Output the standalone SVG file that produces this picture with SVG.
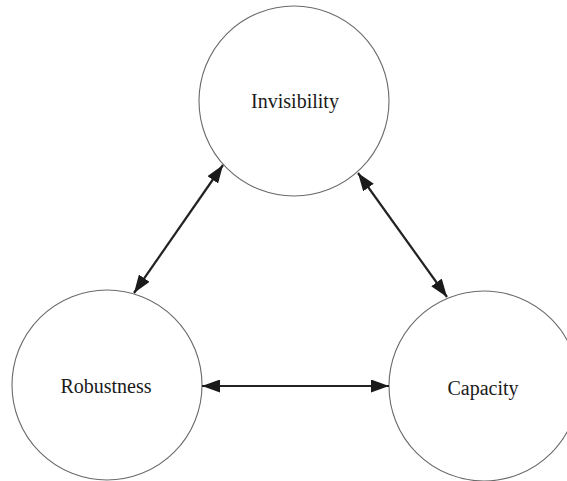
<svg xmlns="http://www.w3.org/2000/svg" width="567" height="481" viewBox="0 0 567 481">
  <style>
    .node circle { fill: #ffffff; stroke: #6a6a6a; stroke-width: 1.1; }
    .node text { font-family: 'Liberation Serif', 'DejaVu Serif', 'Times New Roman', serif; font-size: 20px; fill: #1a1a1a; text-anchor: middle; }
    .edge { stroke: #222222; stroke-width: 2.2; fill: none; marker-start: url(#head); marker-end: url(#head); }
  </style>
  <defs>
    <marker id="head" viewBox="0 0 18 13" refX="18" refY="6.5" markerWidth="18" markerHeight="13" markerUnits="userSpaceOnUse" orient="auto-start-reverse">
      <path d="M0,0 L18,6.5 L0,13 Z" fill="#1a1a1a"/>
    </marker>
  </defs>
  <rect width="567" height="481" fill="#ffffff"/>

  <g id="invisibility" class="node">
    <circle cx="294" cy="101" r="95"/>
    <text x="295" y="108" font-family="Liberation Serif, serif">Invisibility</text>
  </g>
  <g id="robustness" class="node">
    <circle cx="107" cy="385" r="95"/>
    <text x="106" y="393" font-family="Liberation Serif, serif">Robustness</text>
  </g>
  <g id="capacity" class="node">
    <circle cx="484" cy="386" r="95"/>
    <text x="483" y="395" font-family="Liberation Serif, serif">Capacity</text>
  </g>

  <g id="connectors">
    <line class="edge" x1="134" y1="293" x2="223" y2="165"/>
    <line class="edge" x1="358" y1="173" x2="447" y2="297"/>
    <line class="edge" x1="202" y1="386" x2="389" y2="386"/>
  </g>
</svg>
